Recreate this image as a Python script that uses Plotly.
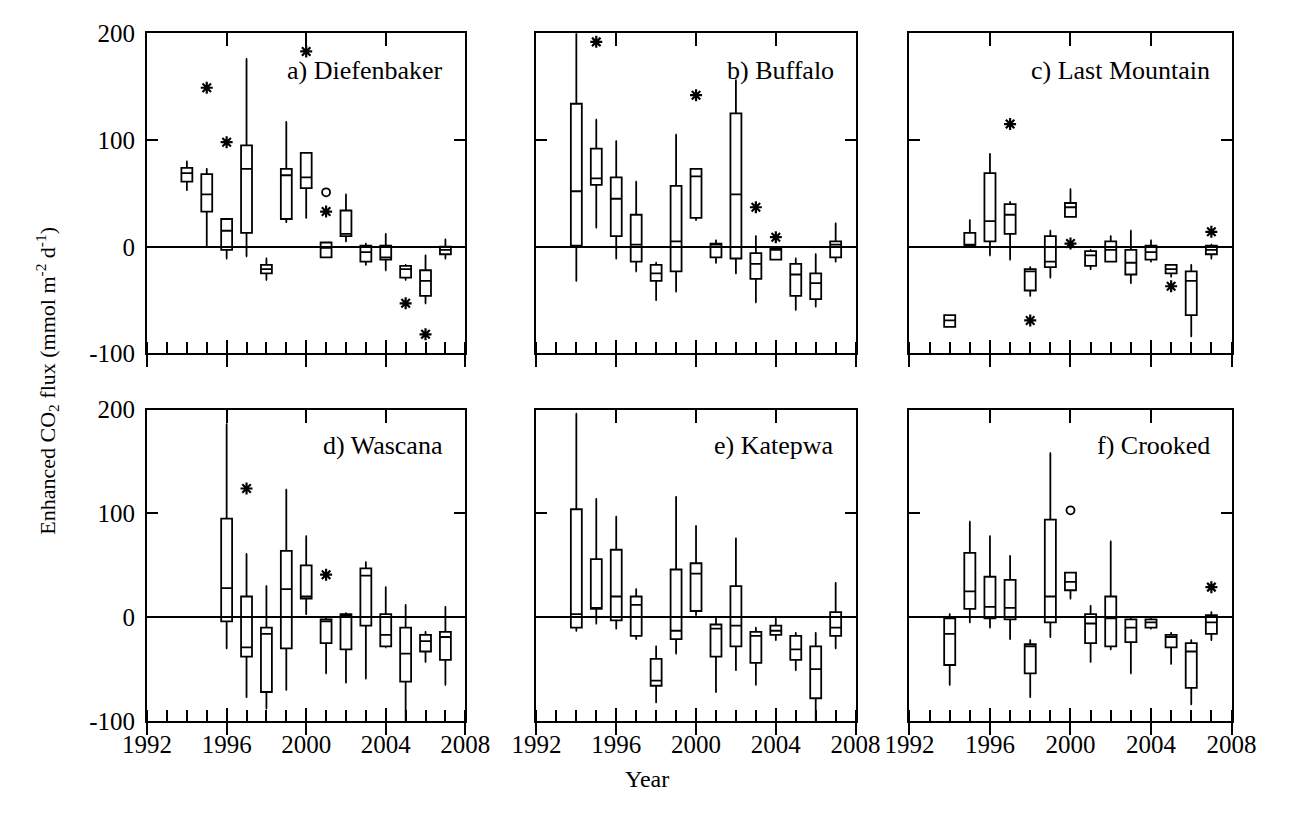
import plotly.graph_objects as go

# ---------------- data ----------------
YEARS_14 = list(range(1994, 2008))
YEARS_12 = list(range(1996, 2008))

# a) Diefenbaker
A_lo  = [53, 1, -11, -9, -31, 23, 27, -10, 5, -17, -22, -31, -53, -11]
A_q1  = [61, 33, -3, 13, -25, 26, 55, -10, 10, -14, -12, -29, -46, -7]
A_med = [69, 49, 15, 73, -21, 67, 65, -1, 12, -5, -10, -21, -32, -3]
A_q3  = [74, 68, 26, 95, -17, 73, 88, 4, 34, 1, 1, -18, -22, 0]
A_hi  = [80, 73, 26, 176, -11, 117, 88, 4, 49, 3, 12, -17, -8, 7]
A_star_x = [1995, 1996, 2000, 2001, 2005, 2006]
A_star_y = [149, 98, 183, 33, -53, -82]
A_circ_x = [2001]
A_circ_y = [51]

# b) Buffalo
B_lo  = [-32, 18, -11, -23, -50, -42, 25, -15, -25, -52, -12, -59, -56, -14]
B_q1  = [1, 58, 10, -14, -32, -23, 27, -10, -11, -30, -12, -46, -49, -10]
B_med = [52, 64, 45, 2, -25, 5, 66, 2, 49, -16, -3, -26, -34, 2]
B_q3  = [134, 92, 65, 30, -17, 57, 73, 3, 125, -6, -2, -16, -25, 5]
B_hi  = [210, 119, 99, 61, -15, 105, 73, 6, 156, 10, -2, -11, -7, 22]
B_star_x = [1995, 2000, 2003, 2004]
B_star_y = [192, 142, 37, 9]
B_circ_x = []
B_circ_y = []

# c) Last Mountain
C_lo  = [-75, 0, -8, -12, -46, -29, 28, -21, -14, -34, -14, -28, -84, -11]
C_q1  = [-75, 1, 5, 12, -41, -19, 28, -18, -14, -26, -12, -25, -64, -7]
C_med = [-69, 2, 24, 30, -23, -14, 37, -8, -3, -15, -5, -21, -32, -3]
C_q3  = [-64, 13, 69, 40, -21, 10, 41, -4, 5, -3, 1, -17, -23, 1]
C_hi  = [-64, 25, 87, 42, -19, 15, 54, -3, 10, 15, 6, -17, -17, 2]
C_star_x = [1997, 1998, 2000, 2005, 2007]
C_star_y = [115, -69, 3, -37, 14]
C_circ_x = []
C_circ_y = []

# d) Wascana
D_lo  = [-30, -77, -88, -70, 3, -54, -63, -59, -29, -105, -43, -65]
D_q1  = [-4, -38, -72, -30, 18, -25, -31, -8, -28, -62, -33, -41]
D_med = [28, -29, -16, 27, 20, -4, 2, 40, -17, -35, -23, -19]
D_q3  = [95, 20, -10, 64, 50, -2, 3, 47, 3, -10, -17, -14]
D_hi  = [186, 61, 30, 123, 78, -1, 4, 53, 29, 12, -14, 10]
D_star_x = [1997, 2001]
D_star_y = [124, 41]
D_circ_x = []
D_circ_y = []

# e) Katepwa
E_lo  = [-13, -6, -11, -21, -82, -35, 2, -72, -51, -65, -22, -51, -103, -30]
E_q1  = [-10, 8, -3, -18, -66, -21, 6, -38, -28, -44, -17, -41, -78, -18]
E_med = [3, 9, 20, 12, -61, -13, 42, -11, -8, -18, -13, -31, -50, -10]
E_q3  = [104, 56, 65, 20, -40, 46, 52, -7, 30, -14, -8, -18, -28, 5]
E_hi  = [196, 114, 97, 27, -28, 116, 88, -1, 76, -10, -1, -15, -15, 33]
E_star_x = []
E_star_y = []
E_circ_x = []
E_circ_y = []

# f) Crooked
F_lo  = [-65, -5, -10, -21, -77, -19, 18, -43, -31, -54, -11, -45, -84, -22]
F_q1  = [-46, 8, -1, -2, -54, -5, 26, -25, -28, -24, -10, -29, -68, -16]
F_med = [-16, 25, 10, 9, -28, 20, 34, -6, -1, -10, -5, -19, -33, -5]
F_q3  = [-1, 62, 39, 36, -26, 94, 43, 3, 20, -2, -2, -17, -25, 2]
F_hi  = [3, 92, 78, 59, -22, 158, 43, 11, 73, -1, -1, -15, -22, 5]
F_star_x = [2007]
F_star_y = [29]
F_circ_x = [2000]
F_circ_y = [103]

PANEL_TITLES = ["a) Diefenbaker", "b) Buffalo", "c) Last Mountain",
                "d) Wascana", "e) Katepwa", "f) Crooked"]
X_TICKS = [1992, 1996, 2000, 2004, 2008]
X_TICK_TEXT = ["1992", "1996", "2000", "2004", "2008"]
X_MAJOR_INNER = [1996, 2000, 2004]
Y_TICKS = [-100, 0, 100, 200]
Y_TICK_TEXT = ["-100", "0", "100", "200"]

panels = [
    (YEARS_14, A_lo, A_q1, A_med, A_q3, A_hi, A_star_x, A_star_y, A_circ_x, A_circ_y),
    (YEARS_14, B_lo, B_q1, B_med, B_q3, B_hi, B_star_x, B_star_y, B_circ_x, B_circ_y),
    (YEARS_14, C_lo, C_q1, C_med, C_q3, C_hi, C_star_x, C_star_y, C_circ_x, C_circ_y),
    (YEARS_12, D_lo, D_q1, D_med, D_q3, D_hi, D_star_x, D_star_y, D_circ_x, D_circ_y),
    (YEARS_14, E_lo, E_q1, E_med, E_q3, E_hi, E_star_x, E_star_y, E_circ_x, E_circ_y),
    (YEARS_14, F_lo, F_q1, F_med, F_q3, F_hi, F_star_x, F_star_y, F_circ_x, F_circ_y),
]

# ---------------- layout geometry ----------------
W, H = 1294, 826
XDOM = [(127 / W, 458 / W), (532 / W, 864 / W), (920 / W, 1255 / W)]
YDOM = [(1 - 352 / H, 1 - 21 / H), (1 - 732 / H, 1 - 410 / H)]
FONT = "Liberation Serif, Times New Roman, serif"
AXW = 2.0
LW = 1.8
TICKFS = 25

fig = go.Figure()
layout = dict(
    width=W, height=H, autosize=False,
    margin=dict(l=0, r=0, t=0, b=0),
    paper_bgcolor="white", plot_bgcolor="white",
    font=dict(family=FONT, size=TICKFS, color="black"),
    showlegend=False,
    annotations=[],
)

for i, (yrs, lo, q1, med, q3, hi, sx, sy, cx, cy) in enumerate(panels):
    n = i + 1
    row, col = divmod(i, 3)
    xa = "x" if n == 1 else f"x{n}"
    ya = "y" if n == 1 else f"y{n}"
    fig.add_trace(go.Box(
        x=yrs, q1=q1, median=med, q3=q3, lowerfence=lo, upperfence=hi,
        xaxis=xa, yaxis=ya, width=0.55, whiskerwidth=0.12,
        line=dict(color="black", width=LW), fillcolor="rgba(0,0,0,0)",
        boxpoints=False, hoverinfo="skip",
    ))
    if sx:
        fig.add_trace(go.Scatter(
            x=sx, y=sy, mode="markers", xaxis=xa, yaxis=ya,
            marker=dict(symbol="asterisk-open", size=10, color="black",
                        line=dict(color="black", width=2.2)),
            hoverinfo="skip"))
    if cx:
        fig.add_trace(go.Scatter(
            x=cx, y=cy, mode="markers", xaxis=xa, yaxis=ya,
            marker=dict(symbol="circle-open", size=8, color="black",
                        line=dict(color="black", width=1.8)),
            hoverinfo="skip"))

    bottom = row == 1
    left = col == 0
    layout[f"xaxis{'' if n == 1 else n}"] = dict(
        domain=list(XDOM[col]), anchor=ya, range=[1992, 2008],
        showline=True, linecolor="black", linewidth=AXW, mirror=True,
        showgrid=False, zeroline=False,
        tickmode="array", tickvals=X_TICKS, ticktext=X_TICK_TEXT,
        showticklabels=bottom, ticks="outside", ticklen=12, tickwidth=AXW,
        tickcolor="black", ticklabelstandoff=-12,
        minor=dict(ticks="inside", dtick=1, tick0=1992, ticklen=11,
                   tickwidth=AXW, tickcolor="black", showgrid=False),
        tickfont=dict(family=FONT, size=TICKFS, color="black"),
    )
    layout[f"yaxis{'' if n == 1 else n}"] = dict(
        domain=list(YDOM[row]), anchor=xa, range=[-100, 200],
        showline=True, linecolor="black", linewidth=AXW, mirror="ticks",
        showgrid=False, zeroline=True, zerolinecolor="black",
        zerolinewidth=AXW,
        tickmode="array", tickvals=Y_TICKS, ticktext=Y_TICK_TEXT,
        showticklabels=left, ticks="inside", ticklen=11, tickwidth=AXW,
        tickcolor="black", ticklabelstandoff=5,
        tickfont=dict(family=FONT, size=TICKFS, color="black"),
    )
    # overlay axes: inward major ticks at top and bottom
    for k, side in ((6, "top"), (12, "bottom")):
        m = n + k
        layout[f"xaxis{m}"] = dict(
            anchor=ya, overlaying=xa, side=side,
            range=[1992, 2008], showline=False, showgrid=False,
            zeroline=False, tickmode="array", tickvals=X_MAJOR_INNER,
            showticklabels=False, ticks="inside", ticklen=13, tickwidth=AXW,
            tickcolor="black",
        )
        # invisible carrier trace so the overlay axis is drawn
        fig.add_trace(go.Scatter(x=yrs, y=med, xaxis=f"x{m}", yaxis=ya,
                                 mode="markers", marker=dict(opacity=0),
                                 hoverinfo="skip"))

    layout["annotations"].append(dict(
        text=PANEL_TITLES[i], xref=f"{xa} domain", yref=f"{ya} domain",
        x=1, y=0.885, xanchor="right", yanchor="middle", xshift=-20,
        showarrow=False, font=dict(family=FONT, size=26, color="black")))

layout["annotations"].append(dict(
    text="Enhanced CO<sub>2</sub> flux (mmol m<sup>-2</sup> d<sup>-1</sup>)",
    xref="paper", yref="paper", x=23 / W, y=1 - 380 / H, textangle=-90,
    xanchor="center", yanchor="middle", showarrow=False,
    font=dict(family=FONT, size=22, color="black")))
layout["annotations"].append(dict(
    text="Year", xref="paper", yref="paper", x=647 / W, y=1 - 792 / H,
    xanchor="center", yanchor="middle", showarrow=False,
    font=dict(family=FONT, size=24, color="black")))

fig.update_layout(**layout)
fig.write_html("out.html")
